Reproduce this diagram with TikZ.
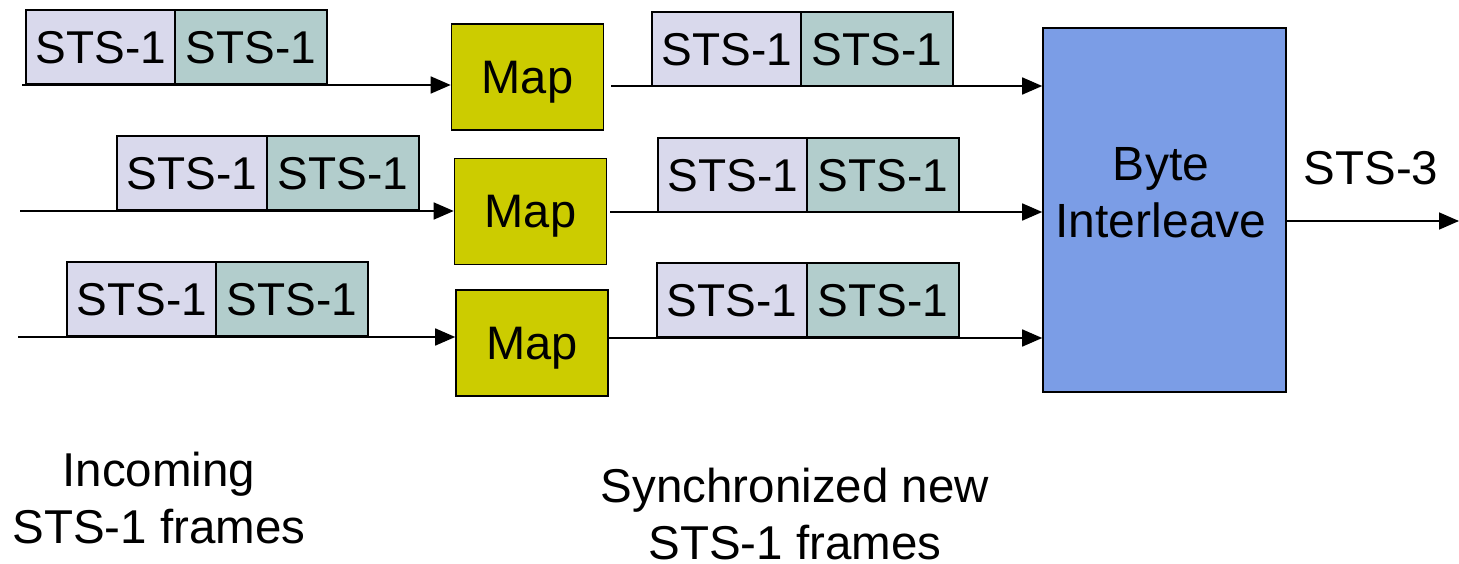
\documentclass[tikz,border=0pt]{standalone}
\usepackage{fontspec}
\setmainfont{Liberation Sans}
\usetikzlibrary{arrows.meta}
\definecolor{lav}{RGB}{217,217,236}
\definecolor{teal2}{RGB}{178,205,204}
\definecolor{mapy}{RGB}{204,204,0}
\definecolor{bytb}{RGB}{123,157,230}
\tikzset{
  base/.style={draw=black, line width=1.6pt, inner sep=0pt, font=\fontsize{46}{54}\selectfont},
  fa/.style={base, fill=lav, minimum width=150pt, minimum height=74pt, anchor=south west},
  fb/.style={base, fill=teal2, minimum width=152pt, minimum height=74pt, anchor=south west},
  mapbox/.style={base, fill=mapy, minimum width=152pt, minimum height=106pt, text depth=0pt, font=\fontsize{47}{54}\selectfont},
  conn/.style={line width=1.6pt, -{Triangle[length=20pt,width=17pt]}},
  lbl/.style={inner sep=0pt, align=center, font=\fontsize{47.5}{57.5}\selectfont}
}
\begin{document}
\begin{tikzpicture}[x=1pt,y=-1pt]
\useasboundingbox (0,0) rectangle (1459,564);
% map boxes
\node[mapbox] (m1) at (527.5,77) {Map};
\node[mapbox] (m2) at (530.5,211.5) {Map};
\node[mapbox] (m3) at (532,343) {Map};
% byte interleave
\node[base, fill=bytb, minimum width=243pt, minimum height=364pt] (bi) at (1164.5,210) {};
\node[inner sep=0pt, align=center, font=\fontsize{48}{57}\selectfont] (bit) at (1161,193) {Byte\\Interleave};
% start coordinates
\coordinate (s1) at (22,85);
\coordinate (s2) at (20,211);
\coordinate (s3) at (18,337);
\coordinate (o1) at (611,86);
\coordinate (o2) at (610,212);
\coordinate (o3) at (m3.east |- 0,338);
\coordinate (out) at (1459,221);
% connectors
\draw[conn] (s1) -- (s1 -| m1.west);
\draw[conn] (s2) -- (s2 -| m2.west);
\draw[conn] (s3) -- (s3 -| m3.west);
\draw[conn] (o1) -- (o1 -| bi.west);
\draw[conn] (o2) -- (o2 -| bi.west);
\draw[conn] (o3) -- (o3 -| bi.west);
\draw[conn] (bi.east |- out) -- (out);
% incoming frames
\node[fa] (a1) at (25,85) {STS-1};
\node[fb] (b1) at (174,85) {STS-1};
\node[fa] (a2) at (116,211) {STS-1};
\node[fb] (b2) at (266,211) {STS-1};
\node[fa] (a3) at (66,337) {STS-1};
\node[fb] (b3) at (215,337) {STS-1};
% synchronized frames
\node[fa] (c1) at (651,87) {STS-1};
\node[fb] (d1) at (800,87) {STS-1};
\node[fa] (c2) at (657,213) {STS-1};
\node[fb] (d2) at (806,213) {STS-1};
\node[fa] (c3) at (656,338) {STS-1};
\node[fb] (d3) at (806,338) {STS-1};
% labels
\node[lbl] (sts3) at (1371,168) {STS-3};
\node[lbl] (inc) at (159,498) {Incoming\\STS-1 frames};
\node[lbl] (syn) at (795,514) {Synchronized new\\STS-1 frames};
\end{tikzpicture}
\end{document}
